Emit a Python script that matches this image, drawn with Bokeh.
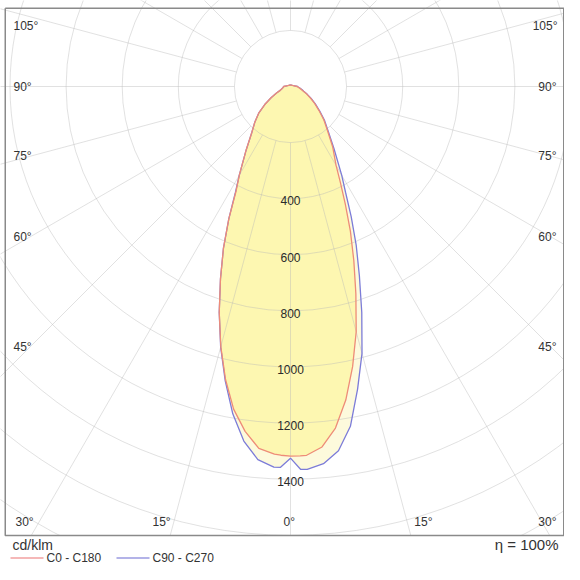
import numpy as np
from bokeh.plotting import figure
from bokeh.models import Range1d
from bokeh.core.properties import value
from bokeh.embed import file_html
from bokeh.resources import INLINE

# ---------------- data (cd/klm) ----------------
gamma = [0, 1.5, 2.5, 5, 7.5, 10, 12.5, 15, 17.5, 20, 22.5, 25, 27.5, 30, 35, 40,
         45, 50, 55, 60, 65, 70, 75, 80, 85, 90, 100, 120, 150, 180]
c0 = [1318, 1317, 1316, 1290, 1228, 1135, 1023, 905, 775, 660, 558, 462, 385, 325, 262, 205,
      168, 132, 105, 82, 64, 48, 40, 33, 28, 24, 14, 8, 6, 6]
c180 = [1318, 1315, 1312, 1295, 1240, 1168, 1070, 960, 845, 730, 625, 520, 420, 365, 275, 215,
        180, 148, 112, 80, 55, 38, 32, 28, 26, 24, 14, 8, 6, 6]
c90 = [1325, 1365, 1366, 1350, 1310, 1230, 1105, 985, 845, 718, 612, 512, 425, 365, 270, 210,
       172, 136, 108, 85, 66, 50, 42, 35, 29, 25, 15, 8, 6, 6]
c270 = [1325, 1358, 1358, 1335, 1275, 1185, 1075, 962, 845, 730, 625, 520, 425, 365, 275, 215,
        180, 148, 112, 80, 55, 38, 32, 28, 26, 24, 14, 8, 6, 6]

ring_values = [200, 400, 600, 800, 1000, 1200, 1400, 1600, 1800, 2000, 2200]
ring_labels = [400, 600, 800, 1000, 1200, 1400]
spoke_angles = list(range(0, 360, 15))
angle_labels_left = ["105°", "90°", "75°", "60°", "45°", "30°", "15°", "0°"]
angle_labels_right = ["105°", "90°", "75°", "60°", "45°", "30°", "15°"]
unit_text = "cd/klm"
eta_text = "η = 100%"
legend_names = ["C0 - C180", "C90 - C270"]

# ---------------- layout ----------------
W, H = 564, 564            # figure size (px)
PCX, PCY = 290, 86         # canvas position of polar centre
S = 0.2805                 # px per cd/klm
FONT = value("Liberation Sans")

def px(x):   # canvas x -> data
    return (x - PCX) / S

def py(y):   # canvas y -> data
    return (PCY - y) / S

p = figure(width=W, height=H, output_backend="svg", toolbar_location=None,
           x_axis_location=None, y_axis_location=None,
           min_border=0, min_border_left=0, min_border_right=0,
           min_border_top=0, min_border_bottom=0,
           x_range=Range1d(px(0), px(W)), y_range=Range1d(py(H), py(0)),
           outline_line_color=None, background_fill_color="white",
           border_fill_color="white")
p.grid.visible = False

g = np.radians(gamma)

def polygon(right_vals, left_vals):
    r = np.array(right_vals, float)
    l = np.array(left_vals, float)
    xr, yr = r * np.sin(g), -r * np.cos(g)
    xl, yl = -l * np.sin(g), -l * np.cos(g)
    xs = np.concatenate([xr[::-1], xl[1:]])
    ys = np.concatenate([yr[::-1], yl[1:]])
    return xs, ys

bx, by = polygon(c90, c270)
rx, ry = polygon(c0, c180)

# fills
p.patch(bx, by, fill_color="#fdfad8", fill_alpha=0.9, line_color=None)
p.patch(rx, ry, fill_color="#fdf6ac", fill_alpha=0.9, line_color=None)

# grid
n = len(ring_values)
p.circle(x=[0] * n, y=[0] * n, radius=ring_values, fill_color=None,
         line_color="#b8b8b8", line_alpha=0.42, line_width=1)
a = np.radians(spoke_angles)
r0, r1 = ring_values[0], 2600
p.segment(x0=r0 * np.sin(a), y0=-r0 * np.cos(a), x1=r1 * np.sin(a), y1=-r1 * np.cos(a),
          line_color="#b8b8b8", line_alpha=0.42, line_width=1)

# curves
p.line(np.append(bx, bx[0]), np.append(by, by[0]), line_color="#7c7cd8", line_width=1.3)
p.line(np.append(rx, rx[0]), np.append(ry, ry[0]), line_color="#ee8c78", line_width=1.3)

# ring labels
p.text(x=[0] * len(ring_labels), y=[-(v + 8) for v in ring_labels],
       text=[str(v) for v in ring_labels], text_font=FONT, text_font_size="12px",
       text_color="#2a2a2a", text_align="center", text_baseline="middle")

# cover below frame
frame_bottom = 535
p.quad(left=px(-10), right=px(W + 10), bottom=py(H + 10), top=py(frame_bottom),
       fill_color="white", line_color=None)

# angle labels (canvas positions)
left_pos = [(13, 25), (13, 86), (13, 155), (13, 236), (13, 346), (15, 521), (152, 521), (283, 521)]
right_pos = [(557, 25), (556, 86), (556, 155), (556, 236), (556, 346), (556, 521), (432, 521)]
p.text(x=[px(q[0]) for q in left_pos], y=[py(q[1]) for q in left_pos], text=angle_labels_left,
       text_font=FONT, text_font_size="12px", text_color="#333333",
       text_align="left", text_baseline="middle")
p.text(x=[px(q[0]) for q in right_pos], y=[py(q[1]) for q in right_pos], text=angle_labels_right,
       text_font=FONT, text_font_size="12px", text_color="#333333",
       text_align="right", text_baseline="middle")

# frame
fx0, fx1, fy0, fy1 = 4.75, 563.25, 7.75, 535
p.line(x=[px(fx0), px(fx1), px(fx1), px(fx0), px(fx0)],
       y=[py(fy0), py(fy0), py(fy1), py(fy1), py(fy0)],
       line_color="#8a8a8a", line_width=1.5)

# bottom texts
p.text(x=[px(12)], y=[py(544)], text=[unit_text], text_font=FONT, text_font_size="14px",
       text_color="#333333", text_align="left", text_baseline="middle")
p.text(x=[px(558)], y=[py(544)], text=[eta_text], text_font=FONT, text_font_size="15px",
       text_color="#333333", text_align="right", text_baseline="middle")
p.segment(x0=[px(10), px(116)], y0=[py(557.5)] * 2, x1=[px(43), px(149)], y1=[py(557.5)] * 2,
          line_color=["#f2a0a0", "#9a9ae0"], line_width=1.3)
p.text(x=[px(46), px(152)], y=[py(557.5)] * 2, text=legend_names, text_font=FONT,
       text_font_size="12px", text_color="#333333", text_align="left", text_baseline="middle")

open("out.html", "w").write(file_html(p, INLINE))
